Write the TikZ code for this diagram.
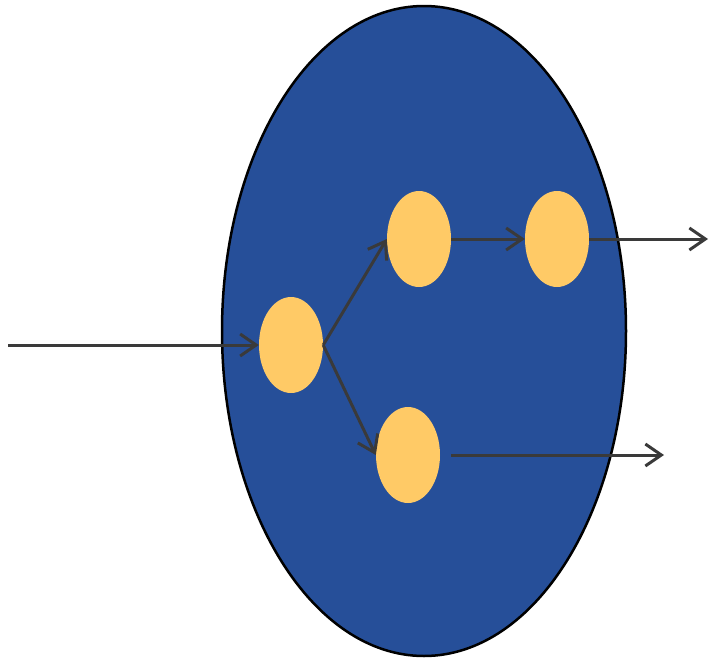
\documentclass[tikz,border=0pt]{standalone}
\usetikzlibrary{arrows.meta,shapes.geometric}
\definecolor{bigblue}{HTML}{264F99}
\definecolor{dotyellow}{HTML}{FFCA66}
\definecolor{linegray}{HTML}{3A3A3A}
\begin{document}
\begin{tikzpicture}[x=1pt,y=-1pt,
  dot/.style={ellipse, fill=dotyellow, minimum width=64pt, minimum height=96pt, inner sep=0pt},
  conn/.style={draw=linegray, line width=3pt, -{Straight Barb[length=16pt,width=22pt,line width=3pt]}}]
\useasboundingbox (0,0) rectangle (710,659);
\node[ellipse, draw=black, line width=2.5pt, fill=bigblue, minimum width=404pt, minimum height=650pt, inner sep=0pt] (big) at (424,331) {};
\node[dot] (a) at (291,345) {};
\node[dot] (b) at (419,239) {};
\node[dot] (c) at (557,239) {};
\node[dot] (d) at (408,455) {};
\coordinate (in) at (8,345);
\coordinate (outc) at (708,239);
\coordinate (dstart) at (451,455);
\coordinate (outd) at (664,455);
\draw[conn] (in) -- (a.west);
\draw[conn] (a.east) -- (b.west);
\draw[conn] (a.east) -- (d.west);
\draw[conn] (b.east) -- (c.west);
\draw[conn] (c.east) -- (outc);
\draw[conn] (dstart) -- (outd);
\end{tikzpicture}
\end{document}
